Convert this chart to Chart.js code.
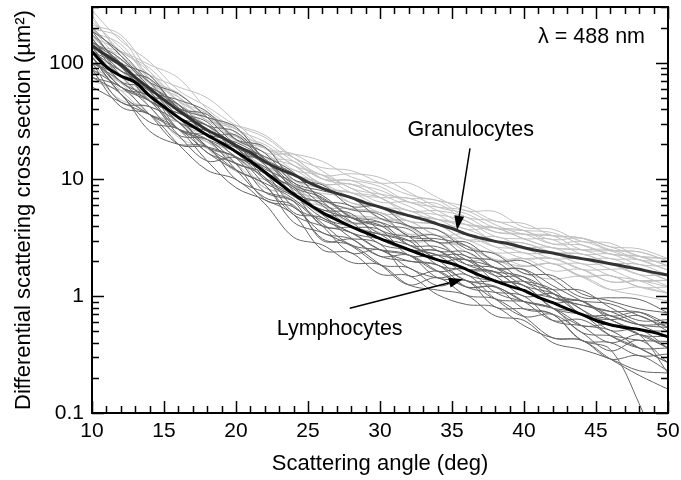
<!DOCTYPE html>
<html>
<head>
<meta charset="utf-8">
<script src="https://cdn.jsdelivr.net/npm/chart.js@4"></script>
<style>
  html, body { margin: 0; padding: 0; background: #fff; }
</style>
</head>
<body>
<canvas id="chart" width="681" height="480"></canvas>
<script>
// scattering angles (deg) for the single-cell curves, every 2 deg
const angles = [10, 12, 14, 16, 18, 20, 22, 24, 26, 28, 30, 32, 34, 36, 38, 40, 42, 44, 46, 48, 50];
// angles for the two mean curves, every 1 deg
const meanAngles = [10, 11, 12, 13, 14, 15, 16, 17, 18, 19, 20, 21, 22, 23, 24, 25, 26, 27, 28, 29, 30,
    31, 32, 33, 34, 35, 36, 37, 38, 39, 40, 41, 42, 43, 44, 45, 46, 47, 48, 49, 50];

const lymphMean = [125, 92, 77, 68, 52, 42, 34, 28.5, 24, 20.5, 17.3, 14.3, 11.6, 9.3, 7.5, 6.2, 5.2, 4.5, 3.95, 3.5, 3.12,
    2.8, 2.5, 2.25, 2.05, 1.9, 1.7, 1.5, 1.35, 1.22, 1.12, 0.98, 0.88, 0.78, 0.70, 0.62, 0.57, 0.54, 0.52, 0.49, 0.45];
const granMean = [140, 115, 96, 75, 60, 48, 39, 32, 26.5, 23, 19.5, 17, 14.2, 12.3, 11, 9.5, 8.4, 7.6, 7.0, 6.3, 5.8,
    5.3, 4.9, 4.55, 4.15, 3.8, 3.4, 3.15, 2.95, 2.8, 2.6, 2.45, 2.35, 2.2, 2.1, 2.0, 1.9, 1.8, 1.7, 1.6, 1.52];

// individual lymphocytes (dark grey)
const lymphCurves = [
    [175, 100, 78, 41, 36, 22, 19, 10, 9.0, 5.9, 5.9, 4.0, 3.7, 2.55, 2.3, 1.57, 1.5, 1.05, 0.91, 0.78, 0.72],
    [88, 42, 36, 20, 12, 10, 6.2, 3.2, 2.75, 1.95, 1.86, 1.25, 1.13, 1.02, 0.68, 0.62, 0.40, 0.35, 0.29, 0.23, 0.22],
    [125, 92, 47, 37, 31, 17, 14.5, 7.9, 4.0, 3.9, 3.7, 2.25, 2.25, 2.2, 1.35, 1.34, 1.14, 0.70, 0.68, 0.57, 0.58],
    [200, 115, 68, 54, 34, 20, 15.7, 11.5, 6.5, 4.3, 4.3, 3.25, 2.05, 2.05, 1.5, 1.0, 1.05, 0.77, 0.51, 0.52, 0.36],
    [100, 69, 42, 24, 22, 13.6, 6.7, 5.8, 3.5, 3.1, 2.2, 2.0, 1.85, 1.2, 1.08, 1.0, 0.62, 0.56, 0.51, 0.36, 0.27],
    [150, 77, 62, 44, 24, 24, 13.4, 7.2, 6.5, 5.9, 3.7, 3.25, 3.3, 2.2, 2.0, 1.34, 1.14, 1.12, 0.8, 0.62, 0.63],
    [112, 54, 31, 27, 17, 12, 9.0, 4.3, 3.5, 2.7, 1.86, 1.75, 1.23, 1.36, 0.81, 0.78, 0.70, 0.42, 0.40, 0.31, 0.32],
    [137, 100, 57, 31, 26, 20, 11.2, 8.6, 5.0, 3.5, 3.1, 2.75, 2.05, 1.36, 1.35, 1.23, 0.79, 0.56, 0.57, 0.47, 0.36],
    [75, 54, 26, 20, 19, 10, 7.8, 6.5, 3.0, 3.1, 2.8, 1.5, 1.64, 1.2, 1.2, 0.78, 0.70, 0.42, 0.35, 0.12, 0.03],
    [162, 85, 73, 41, 29, 25.5, 14.6, 8.6, 7.0, 4.7, 4.0, 3.75, 2.46, 2.4, 1.75, 1.68, 1.06, 0.91, 0.86, 0.68, 0.54],
    [125, 62, 52, 31, 19, 15.3, 7.8, 6.5, 4.0, 2.35, 2.5, 1.75, 1.44, 1.53, 0.95, 0.67, 0.70, 0.49, 0.34, 0.42, 0.27],
    [187, 92, 57, 48, 38, 22, 16.8, 9.4, 8.0, 7.0, 4.65, 4.0, 2.9, 2.9, 2.0, 2.0, 1.4, 0.98, 0.97, 0.94, 0.72],
    [100, 77, 57, 27, 22, 17, 10, 7.2, 5.5, 5.1, 3.1, 2.5, 2.45, 1.7, 1.6, 1.12, 0.88, 0.91, 0.63, 0.52, 0.5],
    [62, 46, 36, 27, 14.4, 8.5, 6.7, 5.0, 2.5, 2.35, 1.55, 1.5, 1.03, 0.85, 0.81, 0.56, 0.44, 0.42, 0.29, 0.31, 0.23],
    [150, 108, 62, 34, 29, 18.7, 12.3, 9.4, 6.0, 3.9, 3.4, 3.0, 2.9, 1.87, 1.62, 1.46, 0.97, 0.84, 0.74, 0.73, 0.54],
    [112, 62, 47, 34, 19, 13.6, 11.2, 5.8, 4.5, 3.5, 2.5, 2.25, 1.64, 1.7, 1.08, 0.9, 0.79, 0.70, 0.46, 0.36, 0.36],
    [137, 69, 62, 41, 24, 18.7, 13.4, 7.2, 5.5, 4.7, 4.3, 2.75, 2.25, 2.05, 1.75, 1.23, 1.06, 0.77, 0.57, 0.47, 0.22],
    [88, 62, 47, 24, 14.4, 15.3, 9.0, 5.0, 4.0, 3.5, 2.5, 2.0, 1.85, 1.36, 1.22, 0.9, 0.79, 0.49, 0.46, 0.42, 0.41],
    [162, 77, 47, 37, 29, 19, 10.4, 7.5, 6.2, 4.35, 2.8, 2.5, 2.25, 1.53, 1.35, 1.23, 0.79, 0.70, 0.63, 0.47, 0.45],
    [100, 46, 42, 31, 17, 13.8, 10.4, 5.2, 4.7, 3.15, 2.2, 2.25, 1.64, 1.2, 1.2, 0.9, 0.62, 0.63, 0.46, 0.36, 0.27],
    [187, 123, 68, 41, 34, 28, 15, 11.2, 6.8, 5.5, 5.0, 3.25, 3.1, 2.7, 1.75, 1.7, 1.23, 0.91, 0.68, 0.73, 0.58],
    [125, 85, 62, 34, 19, 12.1, 9.3, 6.8, 4.2, 2.75, 2.5, 2.25, 1.44, 1.36, 0.95, 0.9, 0.79, 0.56, 0.4, 0.47, 0.36],
    [75, 62, 36, 20, 19, 15.6, 11.6, 8.3, 5.2, 4.7, 3.4, 2.5, 2.45, 1.87, 1.75, 1.34, 0.97, 0.91, 0.68, 0.57, 0.54],
    [150, 100, 52, 27, 24, 20.8, 15, 9.0, 7.3, 4.75, 4.05, 2.75, 2.65, 2.05, 1.5, 1.46, 1.06, 0.70, 0.63, 0.68, 0.5],
    [112, 54, 36, 27, 22, 12.1, 7.0, 6.0, 3.1, 2.75, 1.87, 1.25, 1.44, 1.02, 0.95, 0.67, 0.44, 0.42, 0.29, 0.21, 0.16],
    [137, 69, 52, 44, 26, 15.6, 12.8, 7.5, 4.7, 3.95, 3.4, 3.0, 1.85, 1.7, 1.62, 1.12, 0.97, 0.84, 0.74, 0.57, 0.45]
];

// individual granulocytes (light grey)
const granCurves = [
    [280, 154, 102, 58, 42, 29, 23, 15.4, 12.6, 11.9, 9.3, 7.4, 6.6, 5.8, 4.4, 4.2, 3.3, 3.15, 2.5, 2.4, 2.0],
    [70, 58, 48, 27, 21, 13.7, 11.4, 7.7, 5.0, 4.9, 4.6, 3.4, 2.9, 2.7, 2.05, 1.8, 1.9, 1.5, 1.5, 1.2, 1.06],
    [182, 144, 72, 55, 34, 23.4, 18.5, 12.1, 10.9, 8.4, 6.4, 6.4, 5.0, 3.75, 3.85, 3.1, 2.6, 2.5, 2.5, 2.05, 1.67],
    [112, 67, 54, 39, 24, 19.5, 12.8, 12.1, 8.4, 6.3, 5.8, 4.4, 4.15, 3.05, 3.25, 2.6, 2.1, 2.1, 1.7, 1.36, 1.37],
    [140, 125, 96, 74, 40, 27, 21, 14.3, 10.1, 9.8, 8.7, 6.4, 5.8, 5.4, 4.1, 3.4, 3.3, 3.15, 2.65, 2.2, 1.82],
    [84, 77, 42, 23, 18.5, 15.6, 10, 6.6, 5.9, 4.2, 4.1, 2.95, 2.9, 2.05, 2.05, 1.56, 1.4, 1.47, 1.14, 1.02, 0.91],
    [154, 96, 72, 43, 34, 27, 17, 16.5, 14.3, 10.5, 9.3, 9.3, 7.0, 5.4, 5.3, 3.9, 3.75, 2.95, 2.85, 2.2, 2.1],
    [126, 106, 60, 35, 21, 17.5, 14.2, 8.8, 7.6, 7.0, 4.6, 4.4, 3.3, 3.4, 2.65, 2.1, 2.1, 1.7, 1.7, 1.7, 1.37],
    [224, 134, 78, 47, 37, 25, 15.6, 13.2, 9.2, 9.1, 7.0, 5.4, 5.0, 4.4, 3.25, 3.1, 3.05, 2.3, 2.3, 1.87, 1.82],
    [98, 58, 36, 31, 18.5, 11.7, 10, 8.8, 5.9, 5.6, 5.2, 3.9, 2.9, 2.7, 2.05, 2.1, 1.65, 1.7, 1.33, 1.36, 1.2],
    [168, 125, 84, 47, 29, 23.4, 19.9, 13.2, 10.9, 7.7, 7.0, 6.9, 5.4, 4.1, 3.85, 3.65, 2.8, 2.75, 2.3, 2.2, 1.82],
    [140, 86, 48, 39, 29, 19.5, 12.8, 11, 9.2, 6.3, 5.8, 5.4, 4.15, 3.05, 2.95, 2.85, 2.35, 1.9, 1.9, 1.87, 1.52],
    [252, 115, 66, 51, 32, 29, 24, 15.4, 10.9, 11.2, 10.4, 7.8, 5.8, 5.1, 3.85, 3.65, 3.5, 2.75, 2.3, 2.2, 2.1],
    [84, 48, 42, 31, 18.5, 15.6, 8.5, 7.7, 6.7, 4.9, 3.5, 3.4, 3.3, 2.4, 1.77, 1.8, 1.9, 1.47, 1.14, 1.2, 1.06],
    [196, 106, 78, 62, 50, 31, 18.5, 15.4, 10.1, 9.1, 8.1, 6.4, 6.2, 4.4, 3.55, 3.4, 2.8, 2.95, 2.45, 2.05, 1.98],
    [126, 77, 60, 31, 24, 19.5, 15.6, 9.9, 8.4, 7.7, 7.0, 4.9, 4.55, 4.1, 2.95, 2.85, 2.35, 2.3, 1.9, 1.53, 1.52],
    [210, 173, 84, 47, 34, 21.5, 17, 11, 9.2, 7.0, 5.2, 4.9, 4.55, 3.4, 2.65, 2.6, 2.6, 2.1, 2.1, 1.7, 1.37],
    [98, 86, 48, 27, 21, 17.5, 11.4, 9.9, 6.7, 5.6, 5.2, 3.9, 3.7, 2.7, 2.35, 2.35, 1.9, 1.9, 1.5, 1.36, 1.06],
    [168, 96, 54, 43, 32, 21.5, 18.5, 13.2, 9.2, 9.1, 7.0, 5.4, 5.4, 4.75, 3.55, 3.4, 3.3, 2.5, 2.45, 2.4, 2.0],
    [112, 86, 48, 27, 21, 13.7, 8.5, 7.7, 6.7, 4.9, 4.6, 4.4, 3.3, 3.05, 2.35, 1.82, 1.9, 1.47, 1.5, 1.2, 1.2],
    [238, 125, 90, 51, 32, 27, 18.5, 16.5, 11.8, 8.4, 7.5, 6.9, 6.6, 4.75, 4.4, 3.65, 3.05, 3.15, 2.65, 2.55, 2.1],
    [140, 115, 66, 39, 29, 17.5, 14.2, 9.9, 8.4, 7.7, 5.8, 4.4, 4.15, 3.75, 2.95, 2.35, 2.35, 2.3, 1.9, 1.53, 1.22],
    [84, 67, 36, 31, 24, 15.6, 12.8, 8.8, 5.9, 5.6, 5.2, 3.9, 3.7, 2.7, 2.05, 2.1, 2.1, 1.7, 1.33, 1.36, 1.37],
    [196, 163, 72, 43, 34, 23.4, 15.6, 14.3, 10.1, 9.8, 7.5, 5.9, 4.55, 4.1, 3.85, 3.1, 2.6, 2.5, 2.1, 2.05, 1.67]
];

const yTickValues = [0.1, 1, 10, 100];

const FONT = 'Liberation Sans, Arial, Helvetica, sans-serif';

const toPoints = (xs, ys) => ys.map((v, i) => ({ x: xs[i], y: v }));

const datasets = [
    {
        label: 'Lymphocytes (mean)',
        data: toPoints(meanAngles, lymphMean),
        borderColor: '#000',
        borderWidth: 3,
        tension: 0.3,
        order: 0,
    },
    {
        label: 'Granulocytes (mean)',
        data: toPoints(meanAngles, granMean),
        borderColor: '#333',
        borderWidth: 3,
        tension: 0.3,
        order: 1,
    },
    ...lymphCurves.map((c, i) => ({
        label: 'lymphocyte ' + (i + 1),
        data: toPoints(angles, c),
        borderColor: '#666',
        borderWidth: 1,
        tension: 0.35,
        order: 2,
    })),
    ...granCurves.map((c, i) => ({
        label: 'granulocyte ' + (i + 1),
        data: toPoints(angles, c),
        borderColor: '#c0c0c0',
        borderWidth: 1,
        tension: 0.35,
        order: 3,
    })),
];

// text labels with arrows, placed in data coordinates
const notes = [
    { text: 'Granulocytes', at: [36.3, 26.5], from: [36.25, 18.5], to: [35.35, 3.7] },
    { text: 'Lymphocytes', at: [27.2, 0.52], from: [27.9, 0.79], to: [35.76, 1.4] },
];

// inward tick marks on all four sides plus the frame
const frameTicks = {
    id: 'frameTicks',
    afterDatasetsDraw(chart) {
        const { ctx, chartArea: a, scales: { x, y } } = chart;
        ctx.save();
        ctx.strokeStyle = '#000';
        ctx.lineWidth = 1.5;
        ctx.beginPath();
        for (let d = 10; d <= 50; d++) {
            const px = Math.round(x.getPixelForValue(d)) + 0.5;
            const len = d % 5 === 0 ? 12 : 7;
            ctx.moveTo(px, a.bottom); ctx.lineTo(px, a.bottom - len);
            ctx.moveTo(px, a.top); ctx.lineTo(px, a.top + len);
        }
        yTickValues.forEach(dec => {
            for (let m = 1; m <= 9; m++) {
                const v = dec * m;
                if (v > y.max) break;
                const py = Math.round(y.getPixelForValue(v)) + 0.5;
                const len = m === 1 ? 12 : 7;
                ctx.moveTo(a.left, py); ctx.lineTo(a.left + len, py);
                ctx.moveTo(a.right, py); ctx.lineTo(a.right - len, py);
            }
        });
        ctx.stroke();
        ctx.lineWidth = 2;
        ctx.strokeRect(a.left, a.top, a.right - a.left, a.bottom - a.top);
        ctx.restore();
    }
};

const labelsAndArrows = {
    id: 'labelsAndArrows',
    afterDatasetsDraw(chart) {
        const { ctx, chartArea: a, scales: { x, y } } = chart;
        ctx.save();
        ctx.fillStyle = '#000';
        ctx.strokeStyle = '#000';
        ctx.font = '21.5px ' + FONT;
        ctx.textBaseline = 'middle';

        ctx.textAlign = 'right';
        ctx.fillText('\u03bb = 488 nm', a.right - 23, a.top + 30);

        ctx.textAlign = 'center';
        notes.forEach(n => {
            ctx.fillText(n.text, x.getPixelForValue(n.at[0]), y.getPixelForValue(n.at[1]));
            const x0 = x.getPixelForValue(n.from[0]), y0 = y.getPixelForValue(n.from[1]);
            const x1 = x.getPixelForValue(n.to[0]), y1 = y.getPixelForValue(n.to[1]);
            const ang = Math.atan2(y1 - y0, x1 - x0);
            const head = 14, half = 5;
            const bx = x1 - head * Math.cos(ang), by = y1 - head * Math.sin(ang);
            ctx.lineWidth = 1.5;
            ctx.beginPath();
            ctx.moveTo(x0, y0);
            ctx.lineTo(bx, by);
            ctx.stroke();
            ctx.beginPath();
            ctx.moveTo(x1, y1);
            ctx.lineTo(bx + half * Math.sin(ang), by - half * Math.cos(ang));
            ctx.lineTo(bx - half * Math.sin(ang), by + half * Math.cos(ang));
            ctx.closePath();
            ctx.fill();
        });
        ctx.restore();
    }
};

new Chart('chart', {
    type: 'line',
    data: { datasets },
    options: {
        responsive: false,
        animation: false,
        layout: { padding: { top: 7, right: 13, left: 0, bottom: 0 } },
        elements: { point: { radius: 0 } },
        plugins: {
            legend: { display: false },
            tooltip: { enabled: false },
        },
        scales: {
            x: {
                type: 'linear',
                min: 10,
                max: 50,
                border: { display: false },
                grid: { display: false, drawTicks: false },
                ticks: { stepSize: 5, padding: 6, color: '#000', font: { family: FONT, size: 21 } },
                title: {
                    display: true,
                    text: 'Scattering angle (deg)',
                    color: '#000',
                    font: { family: FONT, size: 22 },
                    padding: { top: 0, bottom: 3 },
                },
                afterFit(scale) {
                    scale.height = 67;
                    scale.paddingLeft = 0;
                    scale.paddingRight = 0;
                },
            },
            y: {
                type: 'logarithmic',
                min: 0.1,
                max: 300,
                border: { display: false },
                grid: { display: false, drawTicks: false },
                afterBuildTicks(scale) { scale.ticks = yTickValues.map(v => ({ value: v })); },
                ticks: {
                    padding: 8,
                    color: '#000',
                    font: { family: FONT, size: 21 },
                    callback: v => String(v),
                },
                title: {
                    display: true,
                    text: 'Differential scattering cross section (\u00b5m\u00b2)',
                    color: '#000',
                    font: { family: FONT, size: 22 },
                    padding: { top: 11, bottom: 0 },
                },
                afterFit(scale) {
                    scale.width = 92;
                    scale.paddingTop = 0;
                    scale.paddingBottom = 0;
                },
            },
        },
    },
    plugins: [frameTicks, labelsAndArrows],
});
</script>
</body>
</html>
